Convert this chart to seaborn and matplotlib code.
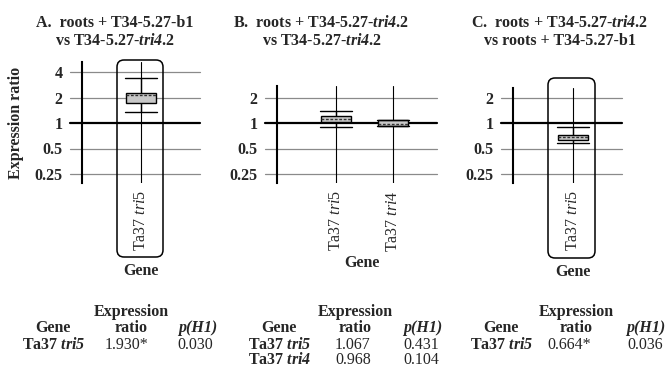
import numpy as np
import pandas as pd
import matplotlib
matplotlib.use("Agg")
import matplotlib.pyplot as plt
from matplotlib.patches import FancyBboxPatch
from matplotlib.transforms import IdentityTransform
from matplotlib.ticker import NullLocator
import seaborn as sns

# box statistics: whisker low, q1, median, q3, whisker high
genes_a = ["Ta37 tri5"]
stats_a = [[1.36, 1.71, 2.14, 2.24, 3.37]]
genes_b = ["Ta37 tri5", "Ta37 tri4"]
stats_b = [[0.90, 1.04, 1.11, 1.22, 1.40],
           [0.915, 0.925, 0.98, 1.08, 1.09]]
genes_c = ["Ta37 tri5"]
stats_c = [[0.576, 0.63, 0.678, 0.72, 0.89]]

yticks_a = [0.25, 0.5, 1, 2, 4]
yticks_bc = [0.25, 0.5, 1, 2]

# summary tables under the panels
ratio_a = ["1.930*"]
p_a = ["0.030"]
ratio_b = ["1.067", "0.968"]
p_b = ["0.431", "0.104"]
ratio_c = ["0.664*"]
p_c = ["0.036"]

W, H = 667, 376

sns.set_style("white")
plt.rcParams["font.family"] = ["Liberation Serif", "DejaVu Serif"]
plt.rcParams["mathtext.fontset"] = "custom"
plt.rcParams["mathtext.rm"] = "Liberation Serif"
plt.rcParams["mathtext.it"] = "Liberation Serif:italic"
plt.rcParams["mathtext.bf"] = "Liberation Serif:bold"
plt.rcParams["mathtext.bfit"] = "Liberation Serif:italic:bold"

FS = 11.5


def it_label(name, bold=False):
    head, tail = name.split(" ")
    cmd = r"\mathbfit" if bold else r"\mathit"
    return head + " $" + cmd + "{" + tail + "}$"


fig = plt.figure(figsize=(W / 100, H / 100), dpi=100)


def make_ax(left, right, top, bottom=183):
    return fig.add_axes([left / W, 1 - bottom / H, (right - left) / W, (bottom - top) / H])


def draw_panel(ax, genes, stats, yticks, xlim, ylim, width_px):
    df = pd.DataFrame({"gene": np.repeat(genes, 5), "ratio": np.concatenate(stats)})
    for i in range(len(genes)):
        ax.axvline(i, color="black", lw=0.8, zorder=0.8)
    sns.boxplot(data=df, x="gene", y="ratio", order=genes, ax=ax,
                whis=np.inf, width=0.53, log_scale=2, color="#c8c8c8",
                saturation=1, linecolor="black", linewidth=1.0,
                capwidths=0.55,
                medianprops=dict(color="#333333", linestyle=(0, (2, 1.2)), linewidth=1.0))
    ax.set_xlim(*xlim)
    ax.set_ylim(*ylim)
    ext = 12 / width_px
    for t in yticks:
        if t == 1:
            ax.axhline(t, xmin=-ext, xmax=1, color="black", lw=1.6, zorder=1.5, clip_on=False)
        else:
            ax.axhline(t, xmin=-ext, xmax=1, color="#8a8a8a", lw=0.9, zorder=0.5, clip_on=False)
    ax.set_yticks(yticks)
    ax.set_yticklabels([f"{t:g}" for t in yticks], fontsize=FS, fontweight="bold")
    ax.yaxis.set_minor_locator(NullLocator())
    ax.set_xticks(range(len(genes)))
    ax.set_xticklabels([it_label(g) for g in genes], rotation=90, fontsize=FS)
    ax.tick_params(axis="y", length=0, pad=14)
    ax.tick_params(axis="x", length=0, pad=5)
    for s in ["top", "right", "bottom"]:
        ax.spines[s].set_visible(False)
    ax.spines["left"].set_color("black")
    ax.spines["left"].set_linewidth(1.5)
    ax.set_ylabel("")
    ax.set_xlabel("")
    ax.grid(False)


unit = 57.0
ax_a = make_ax(82, 200, 62)
draw_panel(ax_a, genes_a, stats_a, yticks_a,
           (-(141 - 82) / unit, (200 - 141) / unit),
           (2 ** (-60 / 25.5), 2 ** (61 / 25.5)), 118)
ax_b = make_ax(277, 437, 86)
draw_panel(ax_b, genes_b, stats_b, yticks_bc,
           (-(336 - 277) / unit, 1 + (437 - 393) / unit),
           (2 ** (-60 / 25.5), 2 ** (37 / 25.5)), 160)
ax_c = make_ax(513, 622, 88)
draw_panel(ax_c, genes_c, stats_c, yticks_bc,
           (-(573 - 513) / unit, (622 - 573) / unit),
           (2 ** (-60 / 25.5), 2 ** (35 / 25.5)), 109)

ax_a.set_ylabel("Expression ratio", fontsize=FS, fontweight="bold")
ax_a.yaxis.set_label_coords((24 - 82) / 118, 0.5)


def ftext(x, y, s, **kw):
    kw.setdefault("fontsize", FS)
    fig.text(x / W, 1 - y / H, s, ha="center", va="center", **kw)


# gene axis labels
ftext(141, 271, "Gene", fontweight="bold")
ftext(362, 263, "Gene", fontweight="bold")
ftext(573, 272, "Gene", fontweight="bold")

# rounded frames around single-gene panels
for x0, x1, y0, y1 in [(117, 163, 60, 257), (548, 595, 78, 258)]:
    fig.add_artist(FancyBboxPatch((x0, H - y1), x1 - x0, y1 - y0,
                                  boxstyle="round,pad=0,rounding_size=7",
                                  transform=IdentityTransform(), fill=False,
                                  ec="black", lw=1.1))

# titles
ftext(115, 23, "A.  roots + T34-5.27-b1", fontweight="bold")
ftext(115, 41, r"vs T34-5.27-$\mathbfit{tri4}$.2", fontweight="bold")
ftext(321, 23, r"B.  roots + T34-5.27-$\mathbfit{tri4}$.2", fontweight="bold")
ftext(322, 41, r"vs T34-5.27-$\mathbfit{tri4}$.2", fontweight="bold")
ftext(560, 23, r"C.  roots + T34-5.27-$\mathbfit{tri4}$.2", fontweight="bold")
ftext(560, 41, "vs roots + T34-5.27-b1", fontweight="bold")

# tables
tables = [
    (genes_a, ratio_a, p_a, 53, 131, 198, 127, 195),
    (genes_b, ratio_b, p_b, 279, 355, 423, 353, 421),
    (genes_c, ratio_c, p_c, 501, 576, 646, 569, 645),
]
for genes, ratios, ps, xg, xr, xp, xrv, xpv in tables:
    ftext(xg, 328, "Gene", fontweight="bold")
    ftext(xr, 312, "Expression", fontweight="bold")
    ftext(xr, 328, "ratio", fontweight="bold")
    ftext(xp, 328, "p(H1)", fontweight="bold", fontstyle="italic")
    for k, (g, r, p) in enumerate(zip(genes, ratios, ps)):
        y = 345 + 15 * k
        ftext(xg + 1, y, it_label(g, bold=True), fontweight="bold")
        ftext(xrv, y, r)
        ftext(xpv, y, p)

fig.savefig("out.png", dpi=100)
